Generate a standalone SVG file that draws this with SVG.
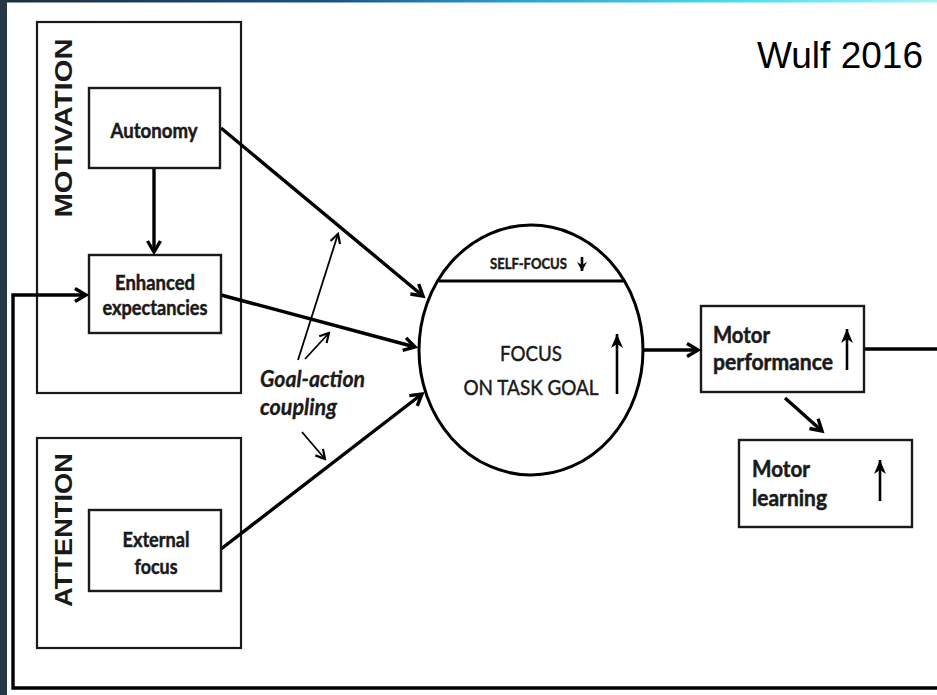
<svg xmlns="http://www.w3.org/2000/svg" width="937" height="695" viewBox="0 0 937 695">
  <defs>
    <linearGradient id="topBand" x1="0" y1="0" x2="1" y2="0">
      <stop offset="0" stop-color="#1c2f3a"/>
      <stop offset="0.35" stop-color="#1a5189"/>
      <stop offset="0.55" stop-color="#2a9fd6"/>
      <stop offset="0.8" stop-color="#4fe0ec"/>
      <stop offset="1" stop-color="#a8f2f4"/>
    </linearGradient>
    <!-- open chevron head for the thick connectors -->
    <marker id="head" markerUnits="userSpaceOnUse" viewBox="-16 -10 20 20" refX="0" refY="0" markerWidth="20" markerHeight="20" orient="auto">
      <path d="M-11,-6.5 L0,0 L-11,6.5" fill="none" stroke="#000" stroke-width="3.4" stroke-linejoin="miter"/>
    </marker>
    <!-- thinner chevron for the goal-action pointers -->
    <marker id="thin" markerUnits="userSpaceOnUse" viewBox="-14 -8 16 16" refX="0" refY="0" markerWidth="16" markerHeight="16" orient="auto">
      <path d="M-9,-5 L0,0 L-9,5" fill="none" stroke="#000" stroke-width="2.2" stroke-linejoin="miter"/>
    </marker>
    <!-- solid triangle for the small up/down indicators -->
    <marker id="tri" markerUnits="userSpaceOnUse" viewBox="-15 -8 16 16" refX="0" refY="0" markerWidth="16" markerHeight="16" orient="auto">
      <path d="M-14,-6 L0,0 L-14,6 L-10,0 Z" fill="#000"/>
    </marker>
    <marker id="triSmall" markerUnits="userSpaceOnUse" viewBox="-11 -6 12 12" refX="0" refY="0" markerWidth="12" markerHeight="12" orient="auto">
      <path d="M-9,-5 L0,0 L-9,5 L-6,0 Z" fill="#000"/>
    </marker>
    <style>
      .box { fill: #fff; stroke: #1a1a1a; stroke-width: 2.4; }
      .frame { fill: none; stroke: #1a1a1a; stroke-width: 2.2; }
      .conn { fill: none; stroke: #000; stroke-width: 3.4; }
      .thinc { fill: none; stroke: #000; stroke-width: 1.8; }
      .ind { fill: none; stroke: #000; stroke-width: 2.6; }
      .lbl { font-family: Lato, "Open Sans", sans-serif; font-weight: bold; fill: #1a1a1a; stroke: #1a1a1a; stroke-width: 0.5; }
      .group { font-family: "Liberation Sans", Arial, sans-serif; font-weight: bold; font-size: 23px; fill: #1a1a1a; }
      .ctr { font-family: Lato, "Open Sans", sans-serif; fill: #1a1a1a; stroke: #1a1a1a; stroke-width: 0.45; }
      .note { font-family: Lato, "Open Sans", sans-serif; font-style: italic; font-weight: bold; font-size: 22px; fill: #1a1a1a; stroke: #1a1a1a; stroke-width: 0.3; }
      .cite { font-family: "Liberation Sans", Arial, sans-serif; font-size: 37px; fill: #000; }
    </style>
  </defs>

  <!-- page -->
  <rect x="0" y="0" width="937" height="695" fill="#fff"/>
  <rect x="0" y="0" width="937" height="2.5" fill="url(#topBand)"/>
  <rect x="0" y="0" width="7" height="695" fill="#243943"/>

  <text class="cite" x="923" y="68" text-anchor="end" textLength="166" lengthAdjust="spacingAndGlyphs">Wulf 2016</text>

  <!-- group frames -->
  <g id="motivation">
    <rect class="frame" x="37" y="22" width="204" height="371"/>
    <text class="group" transform="translate(72 128) rotate(-90)" text-anchor="middle" textLength="179" lengthAdjust="spacingAndGlyphs">MOTIVATION</text>
  </g>
  <g id="attention">
    <rect class="frame" x="37" y="438" width="204" height="210"/>
    <text class="group" transform="translate(72 530) rotate(-90)" text-anchor="middle" textLength="154" lengthAdjust="spacingAndGlyphs">ATTENTION</text>
  </g>

  <!-- connectors -->
  <g id="connectors">
    <line class="conn" x1="154" y1="168" x2="154" y2="252" marker-end="url(#head)"/>
    <line class="conn" x1="221" y1="128" x2="423" y2="296" marker-end="url(#head)"/>
    <line class="conn" x1="221" y1="295" x2="415" y2="347" marker-end="url(#head)"/>
    <line class="conn" x1="221" y1="549" x2="422" y2="394" marker-end="url(#head)"/>
    <line class="conn" x1="643" y1="350" x2="698" y2="350" marker-end="url(#head)"/>
    <line class="conn" x1="785" y1="398" x2="822" y2="431" marker-end="url(#head)"/>
    <path class="conn" d="M864,349 H945 V688 H13 V295 H86" marker-end="url(#head)"/>
    <line class="thinc" x1="298" y1="360" x2="338" y2="234" marker-end="url(#thin)"/>
    <line class="thinc" x1="305" y1="359" x2="329" y2="333" marker-end="url(#thin)"/>
    <line class="thinc" x1="302" y1="432" x2="325" y2="459" marker-end="url(#thin)"/>
  </g>

  <text class="note" x="260" y="387" textLength="105" lengthAdjust="spacingAndGlyphs">Goal-action</text>
  <text class="note" x="260" y="415" textLength="77" lengthAdjust="spacingAndGlyphs">coupling</text>

  <!-- nodes -->
  <g id="autonomy">
    <rect class="box" x="89" y="88" width="131" height="80"/>
    <text class="lbl" x="154" y="138" font-size="21" text-anchor="middle" textLength="87" lengthAdjust="spacingAndGlyphs">Autonomy</text>
  </g>
  <g id="enhanced-expectancies">
    <rect class="box" x="89" y="255" width="132" height="78"/>
    <text class="lbl" x="155" y="290" font-size="21" text-anchor="middle" textLength="80" lengthAdjust="spacingAndGlyphs">Enhanced</text>
    <text class="lbl" x="155" y="315" font-size="21" text-anchor="middle" textLength="105" lengthAdjust="spacingAndGlyphs">expectancies</text>
  </g>
  <g id="external-focus">
    <rect class="box" x="89" y="510" width="132" height="81"/>
    <text class="lbl" x="156" y="547" font-size="21" text-anchor="middle" textLength="67" lengthAdjust="spacingAndGlyphs">External</text>
    <text class="lbl" x="156" y="574" font-size="21" text-anchor="middle" textLength="43" lengthAdjust="spacingAndGlyphs">focus</text>
  </g>
  <g id="focus-on-task-goal">
    <ellipse cx="531" cy="350" rx="112" ry="125" fill="#fff" stroke="#000" stroke-width="3"/>
    <line x1="439" y1="281" x2="624" y2="281" stroke="#000" stroke-width="2.8"/>
    <text class="ctr" x="490" y="269" font-size="16" font-weight="bold" textLength="77" lengthAdjust="spacingAndGlyphs">SELF-FOCUS</text>
    <line class="ind" x1="582" y1="257" x2="582" y2="271" marker-end="url(#triSmall)"/>
    <text class="ctr" x="531" y="361" font-size="22" text-anchor="middle" textLength="62" lengthAdjust="spacingAndGlyphs">FOCUS</text>
    <text class="ctr" x="531" y="395" font-size="22" text-anchor="middle" textLength="135" lengthAdjust="spacingAndGlyphs">ON TASK GOAL</text>
    <line class="ind" x1="617" y1="394" x2="617" y2="334" marker-end="url(#tri)"/>
  </g>
  <g id="motor-performance">
    <rect class="box" x="701" y="306" width="163" height="86"/>
    <text class="lbl" x="713" y="343" font-size="22" textLength="57" lengthAdjust="spacingAndGlyphs">Motor</text>
    <text class="lbl" x="713" y="370" font-size="22" textLength="120" lengthAdjust="spacingAndGlyphs">performance</text>
    <line class="ind" x1="847" y1="370" x2="847" y2="329" marker-end="url(#tri)"/>
  </g>
  <g id="motor-learning">
    <rect class="box" x="739" y="440" width="173" height="87"/>
    <text class="lbl" x="752" y="477" font-size="22" textLength="58" lengthAdjust="spacingAndGlyphs">Motor</text>
    <text class="lbl" x="752" y="506" font-size="22" textLength="75" lengthAdjust="spacingAndGlyphs">learning</text>
    <line class="ind" x1="880" y1="501" x2="880" y2="460" marker-end="url(#tri)"/>
  </g>
</svg>
